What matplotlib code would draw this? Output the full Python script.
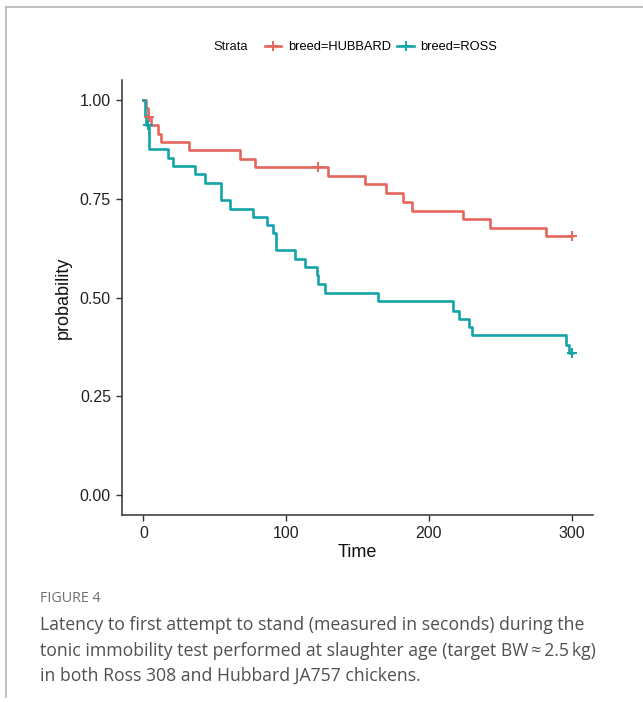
import matplotlib
matplotlib.use("Agg")
import matplotlib.pyplot as plt
from matplotlib.lines import Line2D

# Kaplan-Meier steps (time in s, survival probability)
hub_time = [0, 2, 3, 5, 10, 12, 32, 68, 78, 129, 155, 170, 182, 188, 224, 243, 282, 300]
hub_surv = [1.0, 0.978, 0.956, 0.935, 0.914, 0.893, 0.872, 0.850, 0.830, 0.808,
            0.787, 0.764, 0.742, 0.720, 0.698, 0.677, 0.655, 0.655]
hub_cens_t = [4, 122, 300]
hub_cens_p = [0.956, 0.830, 0.655]

ross_time = [0, 1, 2, 4, 17, 21, 36, 43, 54.5, 61, 77, 86.5, 91, 93, 106, 113,
             121.5, 122.5, 127, 164.5, 217, 221, 228, 230, 296, 298, 300]
ross_surv = [1.0, 0.958, 0.937, 0.875, 0.854, 0.833, 0.812, 0.790, 0.746, 0.725,
             0.704, 0.683, 0.662, 0.619, 0.598, 0.577, 0.556, 0.533, 0.512, 0.490,
             0.467, 0.446, 0.425, 0.404, 0.381, 0.360, 0.360]
ross_cens_t = [3, 300]
ross_cens_p = [0.937, 0.360]

x_ticks = [0, 100, 200, 300]
y_ticks = [0.0, 0.25, 0.5, 0.75, 1.0]
y_ticklabels = ["0.00", "0.25", "0.50", "0.75", "1.00"]

red = '#E5665D'
teal = '#14A3A6'
dark = '#333333'

plt.rcParams['font.family'] = ['Liberation Sans', 'DejaVu Sans']

fig = plt.figure(figsize=(6.43, 7.02), dpi=100)
ax = fig.add_axes([122/643, 1 - 515/702, (593-122)/643, (515-80)/702])

ax.plot(hub_time, hub_surv, drawstyle='steps-post', color=red, lw=1.9)
ax.plot(ross_time, ross_surv, drawstyle='steps-post', color=teal, lw=1.9)
ax.plot(hub_cens_t, hub_cens_p, ls='none', marker='+', ms=7, mew=1.4, color=red)
ax.plot(ross_cens_t, ross_cens_p, ls='none', marker='+', ms=7, mew=1.4, color=teal)

ax.set_xlim(-15, 315)
ax.set_ylim(-0.05, 1.05)
ax.set_xticks(x_ticks)
ax.set_yticks(y_ticks)
ax.set_yticklabels(y_ticklabels)
ax.tick_params(direction='out', length=4, width=1, color=dark, labelsize=11.5,
               labelcolor='#222222', pad=4)
for s in ['top', 'right']:
    ax.spines[s].set_visible(False)
for s in ['left', 'bottom']:
    ax.spines[s].set_color(dark)
    ax.spines[s].set_linewidth(1.1)
ax.set_xlabel('Time', fontsize=13, color='#111111', labelpad=2)
ax.set_ylabel('probability', fontsize=13, color='#111111', labelpad=6)

# legend row on top
handles = [Line2D([0], [0], color=red, lw=1.9, marker='+', ms=7, mew=1.4),
           Line2D([0], [0], color=teal, lw=1.9, marker='+', ms=7, mew=1.4)]
fig.legend(handles, ['breed=HUBBARD', 'breed=ROSS'], loc='center',
           bbox_to_anchor=(381/643, 1 - 47/702), ncol=2, frameon=False,
           fontsize=9.3, handlelength=1.3, handletextpad=0.5, columnspacing=0.5)
fig.text(213/643, 1 - 47/702, 'Strata', fontsize=9.3, ha='left', va='center',
         color='#111111')

# page frame
fig.add_artist(Line2D([6/643, 1], [1 - 7/702, 1 - 7/702], color='#b5b5b5', lw=1.2))
fig.add_artist(Line2D([6/643, 6/643], [1 - 7/702, 1 - 697/702], color='#b5b5b5', lw=1.2))

# caption
fig.text(40/643, 1 - 598/702, 'FIGURE 4', fontsize=10.3, family='Open Sans',
         color='#6e6e6e', va='center', ha='left')
caption = ["Latency to first attempt to stand (measured in seconds) during the",
           "tonic immobility test performed at slaughter age (target BW\u2009\u2248\u20092.5\u2009kg)",
           "in both Ross 308 and Hubbard JA757 chickens."]
for i, line in enumerate(caption):
    fig.text(40/643, 1 - (625 + 25.5*i)/702, line, fontsize=12.7,
             family=['Open Sans', 'DejaVu Sans'], color='#505050', va='center', ha='left')

fig.savefig('out.png', dpi=100)
